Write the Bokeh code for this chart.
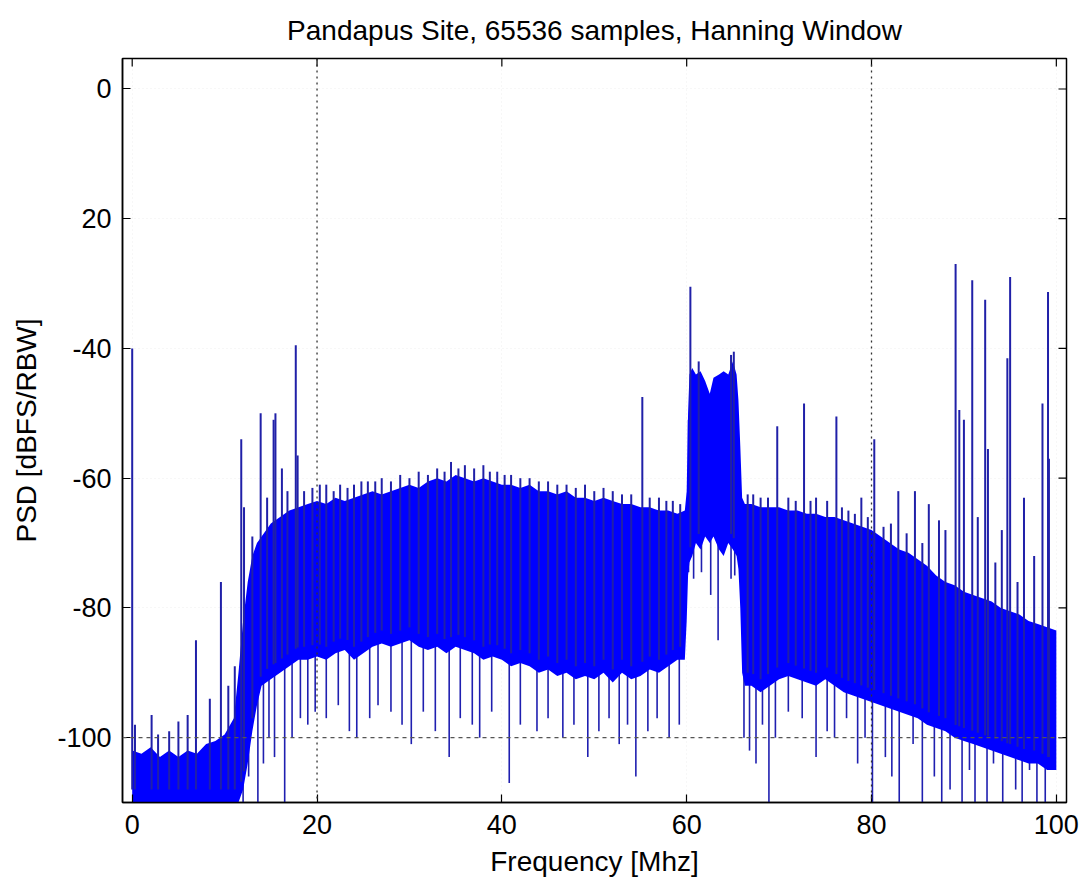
import numpy as np
from bokeh.plotting import figure
from bokeh.models import Range1d, Span, FixedTicker
from bokeh.embed import file_html
from bokeh.resources import INLINE

title_text = "Pandapus Site, 65536 samples, Hanning Window"
x_label = "Frequency [Mhz]"
y_label = "PSD [dBFS/RBW]"
x_ticks = [0, 20, 40, 60, 80, 100]
y_ticks = [0, -20, -40, -60, -80, -100]
y_tick_labels = ["0", "20", "-40", "-60", "-80", "-100"]

# envelope of the dense noise floor (MHz, dB)
env_freq = [0, 1, 2, 3, 4, 5, 6, 7, 8, 9, 10, 11, 11.5, 12, 12.5, 13, 13.5, 14,
            15, 16, 17, 18, 19, 20, 21, 22, 23, 24, 25, 26, 27, 28, 29, 30, 31,
            32, 33, 34, 35, 36, 37, 38, 39, 40, 41, 42, 43, 44, 45, 46, 47, 48,
            49, 50, 51, 52, 53, 54, 55, 56, 57, 58, 59, 59.8, 60.0, 60.15, 60.3,
            60.6, 61.0, 61.5, 62.0, 62.5, 62.9, 63.5, 64.0, 64.5, 65.0, 65.4,
            65.6, 65.8, 66.0, 66.3, 67, 68, 69, 70, 71, 72, 73, 74, 75, 76, 77,
            78, 79, 80, 81, 82, 83, 84, 85, 86, 87, 88, 89, 90, 91, 92, 93, 94,
            95, 96, 97, 98, 99, 100]
env_top = [-102, -102.5, -101.5, -103, -102, -103, -102, -102.5, -101, -100.5,
           -99.5, -97, -90, -82, -76, -72, -70, -69,
           -67, -66, -65, -64.5, -64, -63.5, -64, -63, -63.5, -63, -62.5, -62,
           -62.5, -62, -61.5, -61, -61.5,
           -60.5, -60, -60.5, -59.5, -60, -60.5, -60, -60.5, -61, -61, -61.5,
           -61, -62, -62, -62.5, -62, -63,
           -63, -63.5, -63, -63.5, -64, -64, -64.5, -64.5, -65, -65, -65.5,
           -65, -62, -50, -44,
           -43, -44, -43.5, -45, -47, -44.5, -44, -43.5, -44, -42, -44,
           -48, -55, -63, -64, -64, -64.5, -64.5, -64.5, -65, -65, -65.5, -65.5,
           -66, -66, -66.5,
           -67, -67.5, -68, -69, -70, -71, -71.5, -72.5, -73.5, -75, -76, -76.5,
           -77.5, -78, -78.5, -79, -80,
           -80.5, -81, -82, -82.5, -83, -83.5]
env_bottom = [-110, -110, -110, -110, -110, -110, -110, -110, -110, -110,
              -110, -110, -110, -108, -104, -99, -95, -92,
              -91, -90, -89, -88, -88, -87.5, -88, -87, -86.5, -88, -87, -86,
              -85.5, -86, -85.5, -85, -86,
              -86.5, -86, -87, -86, -86.5, -87, -88, -87.5, -88, -89, -88.5,
              -89, -90, -89.5, -90.5, -90, -91,
              -90.5, -91, -90, -91.5, -90, -91, -90.5, -89.5, -90, -89, -88,
              -88, -82, -75, -73,
              -72, -70, -71, -69, -70, -69, -71, -72, -70, -71, -72,
              -74, -80, -90, -92, -92, -93, -92, -91, -90.5, -91, -91.5, -92,
              -91, -92, -93,
              -93.5, -94, -94.5, -95, -95.5, -96, -96.5, -97, -98, -98.5, -99,
              -100, -100.5, -101, -101.5, -102, -102.5,
              -103, -103.5, -104, -104, -105, -105]

# narrow spurs rising above the floor (MHz, dB)
spike_freq = [0.0, 0.3, 2.1, 2.8, 4.0, 5.0, 6.0, 6.9, 8.4, 9.6, 10.4, 11.1,
              11.8, 12.1, 13.0, 13.9, 14.6, 15.3, 15.5, 16.2, 16.8, 17.7, 17.9,
              18.6, 19.5, 20.3, 21, 21.8, 22.5, 23.3, 24, 24.8, 25.5, 26.3, 27,
              28, 29, 30, 31, 32, 33, 33.8, 34.5, 35.3, 36, 37, 38, 38.7, 39.5,
              40.3, 41, 42, 43, 44, 45, 46, 47, 48, 49, 50, 51, 52, 53, 54,
              55.2, 56, 57, 57.8, 58.5, 59.3,
              60.4, 61.3, 64.8, 65.1,
              66.6, 67.2, 68, 68.8, 69.8, 71, 71.8, 72.7, 73.4, 74, 75.2, 76.2,
              76.8, 77.5, 78.2, 78.9, 79.6, 80.3, 81.3, 82.1, 82.9, 83.8, 84.7,
              85.5, 86.2, 87.3, 88.0, 89.1, 89.5, 90.0, 90.9, 91.5, 92.3,
              92.6, 93.4, 94.1, 94.7, 95.0, 95.8, 96.5, 97.6, 98.5, 99.1, 99.2]
spike_peak = [-40, -98, -96.5, -99.5, -99, -97.5, -96.5, -85, -94, -76, -92,
              -89, -54, -64.5, -69, -50, -63, -51, -50, -58.5, -62, -39.5,
              -56.5,
              -62, -61.5, -61, -61, -62, -61, -61.5, -61, -60.5, -60.5, -60.5,
              -60, -60.5, -59.5, -60, -59, -59.5, -58.5, -59, -57.5, -58.5,
              -58, -58.5, -58, -59, -59,
              -59.5, -59.5, -60, -60, -60.5, -60.5, -61, -61, -61.5, -61, -62,
              -61.5, -62, -62.5, -62.5,
              -47.5, -63, -63, -63.5, -63.5, -64,
              -30.5, -42, -41, -40.5,
              -62.5, -62.5, -63, -63, -52, -63, -63.5, -48.5, -63.5, -63,
              -63.5, -50.5,
              -64.5, -65, -65.5, -63, -66, -54, -67.5, -67, -62, -68.5, -62,
              -70, -64, -66.5, -68, -27, -49.5, -51, -29.5, -66, -32.5,
              -55.5, -73, -68, -41.5, -29, -76, -63, -72, -48.5, -31.3, -57]

# deep notches falling below the floor (MHz, dB)
dip_freq = [12.0, 12.6, 13.6, 14.2, 14.8, 15.4, 16.5, 17.3, 18.2, 19.0, 19.8,
            21.0, 22.3, 23.5, 24.3, 25.7, 26.6, 28.0, 29.2, 30.2, 31.5, 32.8,
            34.3, 35.5, 36.8, 37.6, 38.9, 40.8, 42.0, 43.8, 45.0, 46.6, 47.8,
            49.3, 50.5, 51.6, 52.7, 53.6, 54.5, 55.8, 56.8, 58.1, 59.2,
            60.2, 60.75, 61.6, 62.6, 63.4, 64.8, 65.2,
            66.2, 66.8, 67.5, 68.2, 68.9, 69.6, 71.0, 72.5, 74.0, 75.2, 76.0,
            77.3, 78.5, 79.3, 80.1, 81.5, 82.2, 83.0, 84.5, 85.5, 86.8, 87.6,
            88.5, 89.8, 90.6, 91.2, 92.5, 93.2, 94.2, 95.6, 96.3, 97.1, 97.9,
            98.8, 99.6]
dip_floor = [-110, -106, -110, -104, -100, -103, -110, -100, -97, -98, -96,
             -97, -95, -99, -100, -97, -95, -96, -98, -101, -96, -99,
             -103, -97, -98, -100, -96, -107, -98, -99, -97, -100, -98,
             -103, -99, -97, -101, -98, -106, -99, -97, -100, -98,
             -74.5, -75.5, -74.5, -78, -85, -75.5, -75,
             -100, -102, -104, -98, -110, -100, -96, -97, -103, -99, -100,
             -97, -104, -100, -110, -103, -106, -110, -101, -110, -106, -110,
             -108, -110, -105, -110, -110, -104, -110, -108, -110, -105, -110,
             -110, -104]

FONT = "Liberation Sans"
X0, X1 = -1.05, 101.1
Y0, Y1 = -110, 4.7
W, H = 1082, 886
BL, BR, BT, BB = 122, 16, 58, 84

p = figure(width=W, height=H, output_backend="svg", toolbar_location=None,
           x_range=Range1d(X0, X1), y_range=Range1d(Y0, Y1),
           min_border_left=BL, min_border_right=BR, min_border_top=BT,
           min_border_bottom=BB, background_fill_color="white",
           border_fill_color="white", outline_line_color="black",
           outline_line_width=1.5)

p.title.text = title_text
p.title.align = "center"
p.title.text_font = FONT
p.title.text_font_size = "28px"
p.title.text_font_style = "normal"
p.title.text_color = "black"
p.title.standoff = 25

# faint grid
p.xgrid.ticker = FixedTicker(ticks=x_ticks)
p.ygrid.ticker = FixedTicker(ticks=y_ticks)
p.grid.grid_line_color = "#eeeeee"
p.grid.grid_line_dash = "1 3"

ef = np.array(env_freq, dtype=float)
sf = np.array(spike_freq, dtype=float)
df = np.array(dip_freq, dtype=float)
spike_base = np.interp(sf, ef, np.array(env_bottom, dtype=float)) + 2
dip_top = np.interp(df, ef, np.array(env_top, dtype=float)) - 3

p.segment(x0=df, y0=dip_top, x1=df, y1=dip_floor, line_color="#1f1fb0",
          line_width=1.6)
p.varea(x=env_freq, y1=env_bottom, y2=env_top, fill_color="#0000ff")
p.segment(x0=sf, y0=spike_base, x1=sf, y1=spike_peak, line_color="#2020a8",
          line_width=2)

for xv in (20, 80):
    p.add_layout(Span(location=xv, dimension="height", line_color="#333333",
                      line_dash="2 4", line_width=1.3, level="overlay"))
p.add_layout(Span(location=-100, dimension="width", line_color="#555555",
                  line_dash="4 4", line_width=1.2, level="overlay"))

# inward tick marks on the top and right edges of the box
fw = W - BL - BR
fh = H - BT - BB
tdx = 8 * (X1 - X0) / fw
tdy = 8 * (Y1 - Y0) / fh
xt = np.array(x_ticks, dtype=float)
yt = np.array(y_ticks, dtype=float)
p.segment(x0=xt, y0=np.full(len(xt), Y1), x1=xt, y1=np.full(len(xt), Y1 - tdy),
          line_color="black", line_width=1.2)
p.segment(x0=np.full(len(yt), X1), y0=yt, x1=np.full(len(yt), X1 - tdx), y1=yt,
          line_color="black", line_width=1.2)

p.xaxis.ticker = FixedTicker(ticks=x_ticks)
p.yaxis.ticker = FixedTicker(ticks=y_ticks)
p.yaxis.major_label_overrides = {t: s for t, s in zip(y_ticks, y_tick_labels)}
for ax in (p.xaxis[0], p.yaxis[0]):
    ax.axis_line_color = "black"
    ax.axis_line_width = 1.5
    ax.major_tick_line_color = "black"
    ax.major_tick_line_width = 1.2
    ax.major_tick_in = 8
    ax.major_tick_out = 0
    ax.minor_tick_line_color = None
    ax.major_label_text_font = FONT
    ax.major_label_text_color = "black"
    ax.major_label_text_font_size = "27px"
    ax.axis_label_text_font = FONT
    ax.axis_label_text_font_size = "28px"
    ax.axis_label_text_font_style = "normal"
    ax.axis_label_text_color = "black"
p.xaxis.major_label_standoff = 12
p.yaxis.major_label_standoff = 11
p.xaxis.axis_label = x_label
p.yaxis.axis_label = y_label
p.xaxis.axis_label_standoff = 9
p.yaxis.axis_label_standoff = 12

open("out.html", "w").write(file_html(p, INLINE))
